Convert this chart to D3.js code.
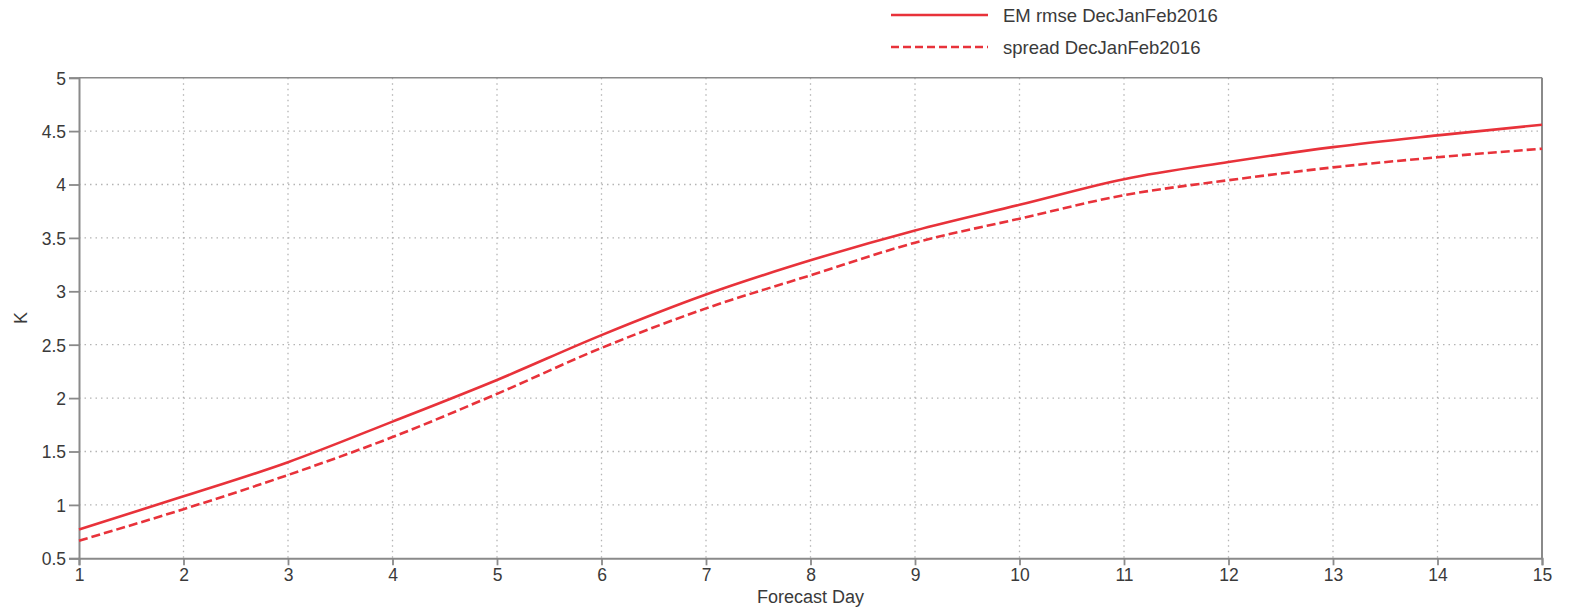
<!DOCTYPE html>
<html>
<head>
<meta charset="utf-8">
<script src="https://cdn.jsdelivr.net/npm/d3@7"></script>
<style>
  html, body { margin: 0; padding: 0; background: #fff; }
  svg { display: block; font-family: "Liberation Sans", Arial, sans-serif; }
</style>
</head>
<body>
<svg id="chart" width="1577" height="610"></svg>
<script>
// Forecast days on the x axis
const days = [1, 2, 3, 4, 5, 6, 7, 8, 9, 10, 11, 12, 13, 14, 15];
// Ensemble-mean RMSE (K)
const rmse = [0.77, 1.08, 1.40, 1.78, 2.17, 2.59, 2.97, 3.29, 3.57, 3.81, 4.05, 4.21, 4.35, 4.46, 4.56];
// Ensemble spread (K)
const spread = [0.665, 0.96, 1.28, 1.635, 2.04, 2.47, 2.84, 3.15, 3.455, 3.68, 3.90, 4.04, 4.16, 4.255, 4.335];
// Axis ticks
const xTicks = days;
const yTicks = [0.5, 1, 1.5, 2, 2.5, 3, 3.5, 4, 4.5, 5];
const seriesNames = ["EM rmse DecJanFeb2016", "spread DecJanFeb2016"];

const svg = d3.select("#chart");
const plotLeft = 79, plotRight = 1542, plotTop = 77.7, plotBottom = 558.3;

const x = d3.scaleLinear().domain([1, 15]).range([plotLeft, plotRight]);
const y = d3.scaleLinear().domain([0.5, 5]).range([plotBottom, plotTop]);

const red = "#e8323a";
const axisColor = "#8a8a8a";
const textColor = "#3a3a3a";

// dotted grid
const grid = svg.append("g");
grid.selectAll("line.v").data(xTicks.slice(1, -1)).join("line")
  .attr("x1", d => x(d)).attr("x2", d => x(d))
  .attr("y1", plotTop).attr("y2", plotBottom)
  .attr("stroke", "#b4b4b4").attr("stroke-width", 1.3)
  .attr("stroke-dasharray", "1.5,4");
grid.selectAll("line.h").data(yTicks.slice(1, -1)).join("line")
  .attr("x1", plotLeft).attr("x2", plotRight)
  .attr("y1", d => y(d)).attr("y2", d => y(d))
  .attr("stroke", "#b4b4b4").attr("stroke-width", 1.3)
  .attr("stroke-dasharray", "1.5,4");

// frame (top and right)
svg.append("line").attr("x1", plotLeft).attr("x2", plotRight).attr("y1", plotTop).attr("y2", plotTop)
  .attr("stroke", axisColor).attr("stroke-width", 1.5);
svg.append("line").attr("x1", plotRight).attr("x2", plotRight).attr("y1", plotTop).attr("y2", plotBottom)
  .attr("stroke", axisColor).attr("stroke-width", 2);

// axes
const xAxis = svg.append("g").attr("transform", `translate(0,${plotBottom})`)
  .call(d3.axisBottom(x).tickValues(xTicks).tickFormat(d3.format("d")).tickSize(7).tickPadding(3));
const yAxis = svg.append("g").attr("transform", `translate(${plotLeft},0)`)
  .call(d3.axisLeft(y).tickValues(yTicks).tickFormat(d => String(d)).tickSize(10).tickPadding(3));
[xAxis, yAxis].forEach(a => {
  a.select(".domain").attr("stroke", axisColor).attr("stroke-width", 2);
  a.selectAll(".tick line").attr("stroke", axisColor).attr("stroke-width", 1.8);
  a.selectAll(".tick text").attr("fill", textColor).attr("font-size", 17.5)
    .attr("font-family", "Liberation Sans, Arial, sans-serif");
});
yAxis.selectAll(".tick text").attr("dy", "0.36em");

// axis titles
svg.append("text").attr("x", (plotLeft + plotRight) / 2).attr("y", 603)
  .attr("text-anchor", "middle").attr("fill", textColor).attr("font-size", 18)
  .text("Forecast Day");
svg.append("text").attr("transform", "translate(27,318) rotate(-90)")
  .attr("text-anchor", "middle").attr("fill", textColor).attr("font-size", 18)
  .text("K");

// series lines
const line = d3.line().x((d, i) => x(days[i])).y(d => y(d)).curve(d3.curveMonotoneX);
svg.append("path").datum(rmse).attr("d", line)
  .attr("fill", "none").attr("stroke", red).attr("stroke-width", 2.6);
svg.append("path").datum(spread).attr("d", line)
  .attr("fill", "none").attr("stroke", red).attr("stroke-width", 2.6)
  .attr("stroke-dasharray", "9,4");

// legend
const legend = svg.append("g");
const legendRows = [
  { name: seriesNames[0], dash: null, y: 15 },
  { name: seriesNames[1], dash: "8,4", y: 47 }
];
legendRows.forEach(r => {
  legend.append("line").attr("x1", 891).attr("x2", 988).attr("y1", r.y).attr("y2", r.y)
    .attr("stroke", red).attr("stroke-width", 2.6)
    .attr("stroke-dasharray", r.dash);
  legend.append("text").attr("x", 1003).attr("y", r.y).attr("dy", "0.36em")
    .attr("fill", textColor).attr("font-size", 18.5).text(r.name);
});
</script>
</body>
</html>
